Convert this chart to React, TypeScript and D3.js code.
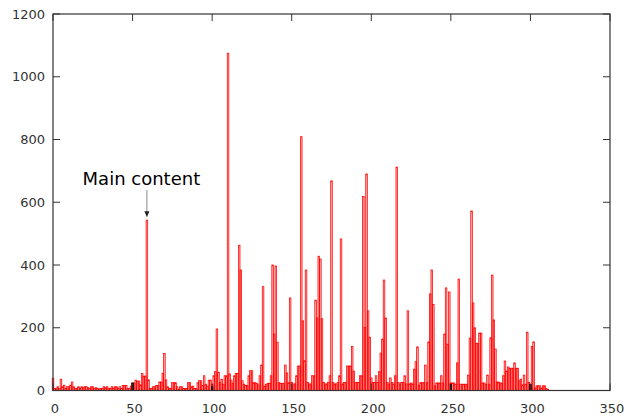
import React, { useMemo } from 'react';
import * as d3 from 'd3';

// counts per bin, index = x position (0..311)
const redCounts = [
  39, 7, 7, 12, 7, 36, 12, 17, 7, 12,
  12, 17, 27, 12, 7, 7, 12, 7, 12, 9,
  12, 12, 9, 7, 12, 12, 6, 9, 7, 4,
  7, 7, 12, 9, 12, 7, 7, 12, 8, 12,
  12, 6, 12, 7, 16, 16, 16, 7, 7, 14,
  24, 24, 33, 30, 30, 18, 54, 46, 46, 543,
  34, 7, 7, 12, 12, 16, 16, 27, 27, 54,
  118, 34, 12, 7, 7, 25, 25, 25, 12, 4,
  12, 12, 6, 6, 6, 25, 25, 12, 14, 6,
  6, 25, 31, 31, 16, 47, 20, 14, 33, 33,
  20, 47, 60, 196, 58, 25, 36, 20, 47, 47,
  1075, 53, 33, 23, 47, 54, 54, 463, 384, 31,
  20, 16, 16, 47, 63, 63, 25, 25, 23, 18,
  47, 81, 331, 14, 20, 23, 23, 47, 400, 180,
  397, 154, 25, 23, 23, 23, 81, 56, 25, 295,
  26, 21, 21, 47, 78, 78, 809, 222, 95, 384,
  26, 21, 21, 47, 47, 288, 231, 428, 419, 229,
  26, 21, 21, 26, 47, 668, 26, 21, 21, 26,
  47, 483, 21, 26, 26, 78, 78, 78, 140, 62,
  26, 26, 26, 47, 47, 618, 201, 690, 254, 170,
  40, 26, 26, 47, 26, 60, 119, 164, 352, 231,
  26, 21, 40, 26, 21, 47, 712, 26, 21, 26,
  26, 47, 21, 254, 21, 24, 21, 68, 92, 139,
  17, 25, 25, 25, 81, 25, 155, 308, 384, 274,
  15, 24, 24, 24, 47, 24, 180, 327, 148, 314,
  24, 24, 24, 20, 88, 355, 20, 20, 20, 20,
  20, 49, 167, 572, 279, 200, 151, 150, 183, 183,
  24, 24, 20, 49, 20, 168, 368, 225, 132, 27,
  27, 24, 24, 47, 94, 62, 75, 71, 71, 71,
  88, 71, 71, 31, 36, 18, 49, 20, 186, 26,
  10, 140, 155, 8, 15, 15, 15, 8, 15, 15, 6, 3
];

const blackX = [50, 100, 250, 300];
const blackCounts = [24, 12, 20, 20];

const xTicks = [0, 50, 100, 150, 200, 250, 300, 350];
const yTicks = [0, 200, 400, 600, 800, 1000, 1200];

const noteX = 59;
const noteText = 'Main content';

const W = 643;
const H = 419;
const margin = { left: 53, right: 33, top: 14, bottom: 28.5 };
const font = 'DejaVu Sans, sans-serif';

function App() {
  const xScale = useMemo(() => d3.scaleLinear().domain([0, 350]).range([margin.left, W - margin.right]), []);
  const yScale = useMemo(() => d3.scaleLinear().domain([0, 1200]).range([H - margin.bottom, margin.top]), []);

  const x0 = margin.left;
  const x1 = W - margin.right;
  const y0 = H - margin.bottom;
  const y1 = margin.top;
  const tickLen = 7;
  const bw = xScale(1) - xScale(0);

  const noteTop = yScale(redCounts[noteX]);
  const ax = xScale(noteX);

  return (
    <svg width={W} height={H} style={{ position: 'absolute', left: 0, top: 0, background: '#fff' }} fontFamily={font}>
      {/* bars */}
      {redCounts.map((v, i) => (
        <rect key={i}
          x={xScale(i - 0.5)} y={yScale(v)}
          width={bw} height={y0 - yScale(v)}
          fill="rgba(255,0,0,0.3)" stroke="#ff0000" strokeWidth={0.75} />
      ))}
      {blackX.map((u, i) => (
        <rect key={'b' + i}
          x={xScale(u - 0.5)} y={yScale(blackCounts[i])}
          width={bw} height={y0 - yScale(blackCounts[i])}
          fill="#000" stroke="#000" strokeWidth={0.6} />
      ))}

      {/* ticks */}
      {xTicks.map(t => (
        <g key={'x' + t}>
          <line x1={xScale(t)} x2={xScale(t)} y1={y0} y2={y0 - tickLen} stroke="#333" />
          <line x1={xScale(t)} x2={xScale(t)} y1={y1} y2={y1 + tickLen} stroke="#333" />
          <text x={xScale(t) + 2} y={y0 + 22} textAnchor="middle" fontSize={13} fill="#333">{t}</text>
        </g>
      ))}
      {yTicks.map(t => (
        <g key={'y' + t}>
          <line x1={x0} x2={x0 + tickLen} y1={yScale(t)} y2={yScale(t)} stroke="#333" />
          <line x1={x1} x2={x1 - tickLen} y1={yScale(t)} y2={yScale(t)} stroke="#333" />
          <text x={x0 - 8} y={yScale(t) + 4.5} textAnchor="end" fontSize={13} fill="#333">{t}</text>
        </g>
      ))}

      {/* frame */}
      <rect x={x0} y={y1} width={x1 - x0} height={y0 - y1} fill="none" stroke="#333" strokeWidth={1.2} />

      {/* annotation */}
      <text x={ax - 5.5} y={185} textAnchor="middle" fontSize={18} fill="#000">{noteText}</text>
      <line x1={ax} x2={ax} y1={190} y2={noteTop - 8} stroke="#888" strokeWidth={1} />
      <path d={`M${ax - 2.5},${noteTop - 9} L${ax + 2.5},${noteTop - 9} L${ax},${noteTop - 3} Z`} fill="#222" />
    </svg>
  );
}

export default App;
